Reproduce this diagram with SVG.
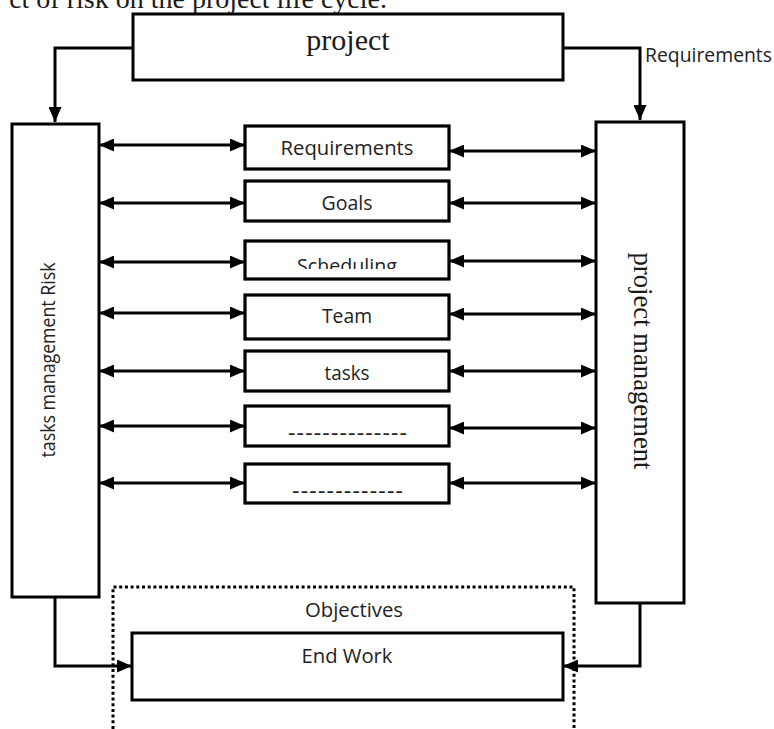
<svg xmlns="http://www.w3.org/2000/svg" width="774" height="729" viewBox="0 0 774 729">
  <style>
    .box { fill: #fff; stroke: #000; stroke-width: 3; }
    .mbox { fill: #fff; stroke: #000; stroke-width: 3.2; }
    .conn { fill: none; stroke: #000; stroke-width: 3; }
    .serif { font-family: "Liberation Serif", "Times New Roman", serif; fill: #1a1a1a; }
    .sans { font-family: "Open Sans", "Noto Sans", "DejaVu Sans", sans-serif; fill: #222; font-size: 19.5px; }
    .dash { font-family: "Open Sans", "Noto Sans", "DejaVu Sans", sans-serif; fill: #222; font-size: 23px; }
    .dot { fill: none; stroke: #000; stroke-width: 3; stroke-dasharray: 3 2.7; }
  </style>
  <defs>
    <marker id="ah" viewBox="0 0 15 13" refX="15" refY="6.5" markerWidth="15" markerHeight="13" markerUnits="userSpaceOnUse" orient="auto-start-reverse">
      <path d="M0,0 L15,6.5 L0,13 z" fill="#000"/>
    </marker>
    <clipPath id="schedClip">
      <rect x="246" y="242" width="202" height="27"/>
    </clipPath>
  </defs>

  <rect width="774" height="729" fill="#fff"/>

  <text class="serif" x="387" y="8" font-size="28" text-anchor="end">ct of risk on the project life cycle.</text>

  <g id="connectors">
    <path class="conn" d="M133,48 H55 V122" marker-end="url(#ah)"/>
    <path class="conn" d="M563,48 H640 V120" marker-end="url(#ah)"/>
    <path class="conn" d="M55,597 V666 H132" marker-end="url(#ah)"/>
    <path class="conn" d="M640,603 V666 H563" marker-end="url(#ah)"/>

    <line class="conn" x1="99" y1="145" x2="245" y2="145" marker-start="url(#ah)" marker-end="url(#ah)"/>
    <line class="conn" x1="99" y1="203" x2="245" y2="203" marker-start="url(#ah)" marker-end="url(#ah)"/>
    <line class="conn" x1="99" y1="262" x2="245" y2="262" marker-start="url(#ah)" marker-end="url(#ah)"/>
    <line class="conn" x1="99" y1="313" x2="245" y2="313" marker-start="url(#ah)" marker-end="url(#ah)"/>
    <line class="conn" x1="99" y1="371" x2="245" y2="371" marker-start="url(#ah)" marker-end="url(#ah)"/>
    <line class="conn" x1="99" y1="426" x2="245" y2="426" marker-start="url(#ah)" marker-end="url(#ah)"/>
    <line class="conn" x1="99" y1="483" x2="245" y2="483" marker-start="url(#ah)" marker-end="url(#ah)"/>

    <line class="conn" x1="449" y1="151" x2="596" y2="151" marker-start="url(#ah)" marker-end="url(#ah)"/>
    <line class="conn" x1="449" y1="203" x2="596" y2="203" marker-start="url(#ah)" marker-end="url(#ah)"/>
    <line class="conn" x1="449" y1="261" x2="596" y2="261" marker-start="url(#ah)" marker-end="url(#ah)"/>
    <line class="conn" x1="449" y1="314" x2="596" y2="314" marker-start="url(#ah)" marker-end="url(#ah)"/>
    <line class="conn" x1="449" y1="371" x2="596" y2="371" marker-start="url(#ah)" marker-end="url(#ah)"/>
    <line class="conn" x1="449" y1="428" x2="596" y2="428" marker-start="url(#ah)" marker-end="url(#ah)"/>
    <line class="conn" x1="449" y1="483" x2="596" y2="483" marker-start="url(#ah)" marker-end="url(#ah)"/>

    <text class="sans" x="645" y="62" textLength="127" lengthAdjust="spacingAndGlyphs">Requirements</text>
  </g>

  <g id="project">
    <rect class="box" x="133" y="14" width="430" height="66"/>
    <text class="serif" x="348" y="50" font-size="30" text-anchor="middle">project</text>
  </g>

  <g id="risk-management">
    <rect class="box" x="12" y="124" width="87" height="473"/>
    <text class="sans" transform="translate(55,360) rotate(-90)" text-anchor="middle" textLength="195" lengthAdjust="spacingAndGlyphs">tasks management Risk</text>
  </g>

  <g id="project-management">
    <rect class="box" x="596" y="122" width="88" height="481"/>
    <text class="serif" transform="translate(634,361) rotate(90)" text-anchor="middle" font-size="28" textLength="217" lengthAdjust="spacingAndGlyphs">project management</text>
  </g>

  <g id="requirements">
    <rect class="mbox" x="245" y="126" width="204" height="43"/>
    <text class="sans" x="347" y="155" text-anchor="middle" textLength="133" lengthAdjust="spacingAndGlyphs">Requirements</text>
  </g>
  <g id="goals">
    <rect class="mbox" x="245" y="181" width="204" height="40"/>
    <text class="sans" x="347" y="210" text-anchor="middle" textLength="51" lengthAdjust="spacingAndGlyphs">Goals</text>
  </g>
  <g id="scheduling">
    <rect class="mbox" x="245" y="241" width="204" height="38"/>
    <text class="sans" x="347" y="273" text-anchor="middle" textLength="100" lengthAdjust="spacingAndGlyphs" clip-path="url(#schedClip)">Scheduling</text>
  </g>
  <g id="team">
    <rect class="mbox" x="245" y="295" width="204" height="44"/>
    <text class="sans" x="347" y="323" text-anchor="middle" textLength="50" lengthAdjust="spacingAndGlyphs">Team</text>
  </g>
  <g id="tasks">
    <rect class="mbox" x="245" y="351" width="204" height="40"/>
    <text class="sans" x="347" y="380" text-anchor="middle" textLength="45" lengthAdjust="spacingAndGlyphs">tasks</text>
  </g>
  <g id="placeholder-1">
    <rect class="mbox" x="245" y="406" width="204" height="40"/>
    <text class="dash" x="347.5" y="441" text-anchor="middle" textLength="119">--------------</text>
  </g>
  <g id="placeholder-2">
    <rect class="mbox" x="245" y="464" width="204" height="39"/>
    <text class="dash" x="347.5" y="499" text-anchor="middle" textLength="111">-------------</text>
  </g>

  <g id="objectives">
    <path class="dot" d="M113,729 V587 H574 V729"/>
    <text class="sans" x="354" y="617" text-anchor="middle" textLength="98" lengthAdjust="spacingAndGlyphs">Objectives</text>
  </g>

  <g id="end-work">
    <rect class="box" x="132" y="633" width="431" height="67"/>
    <text class="sans" x="347" y="663" text-anchor="middle" textLength="91" lengthAdjust="spacingAndGlyphs">End Work</text>
  </g>
</svg>
